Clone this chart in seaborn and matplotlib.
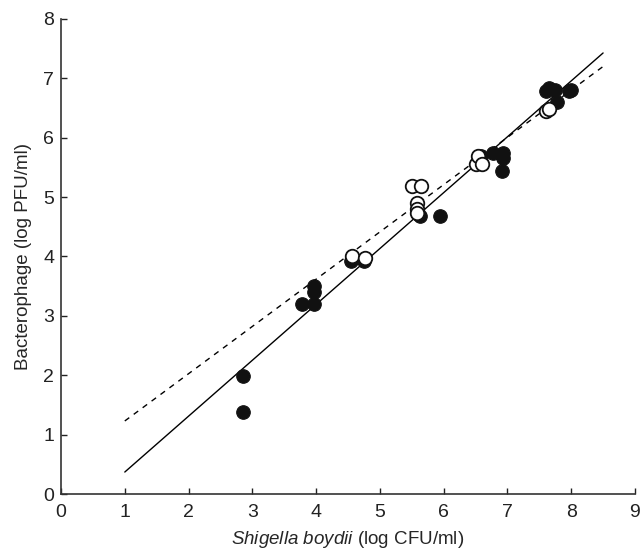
import numpy as np
import pandas as pd
import matplotlib
matplotlib.use("Agg")
import matplotlib.pyplot as plt
import seaborn as sns

# filled circles
filled_x = [2.85, 2.85, 3.78, 3.97, 3.97, 3.97, 4.55, 4.75, 5.60, 5.63, 5.94,
            6.58, 6.77, 6.93, 6.93, 6.91, 7.60, 7.65, 7.74, 7.96, 8.00, 7.77]
filled_y = [1.99, 1.38, 3.20, 3.20, 3.40, 3.50, 3.92, 3.93, 4.72, 4.68, 4.68,
            5.70, 5.74, 5.74, 5.66, 5.44, 6.78, 6.83, 6.80, 6.78, 6.80, 6.60]

# open circles
open_x = [4.57, 4.77, 5.50, 5.64, 5.58, 5.58, 5.58, 6.50, 6.54, 6.60, 7.60, 7.65]
open_y = [4.01, 3.97, 5.19, 5.19, 4.90, 4.80, 4.73, 5.56, 5.69, 5.56, 6.45, 6.48]

# regression lines: value at x=1, slope
solid_fit = [0.37, 0.941]
dashed_fit = [1.23, 0.796]
line_range = [1.0, 8.5]

df_f = pd.DataFrame({"x": filled_x, "y": filled_y})
df_o = pd.DataFrame({"x": open_x, "y": open_y})

sns.set_style("ticks")
plt.rcParams["font.family"] = ["Liberation Sans", "DejaVu Sans"]
plt.rcParams["mathtext.fontset"] = "custom"
plt.rcParams["mathtext.rm"] = "Liberation Sans"
plt.rcParams["mathtext.it"] = "Liberation Sans:italic"

fig = plt.figure(figsize=(6.41, 5.55), dpi=100)
ax = fig.add_axes([0.0952, 0.1099, 0.8954, 0.8559])

lx = np.array(line_range)
ax.plot(lx, solid_fit[0] + solid_fit[1] * (lx - 1), color="black", lw=1.0, zorder=1)
ax.plot(lx, dashed_fit[0] + dashed_fit[1] * (lx - 1), color="black", lw=1.0,
        linestyle=(0, (4, 4)), zorder=1)

sns.scatterplot(data=df_f, x="x", y="y", ax=ax, s=95, color="#111111",
                edgecolor="#111111", linewidth=0.8, zorder=2)
sns.scatterplot(data=df_o, x="x", y="y", ax=ax, s=95, facecolor="white",
                edgecolor="#111111", linewidth=1.3, zorder=3)

ax.set_xlim(0, 9)
ax.set_ylim(0, 8)
ax.set_xticks(range(0, 10))
ax.set_yticks(range(0, 9))
ax.tick_params(direction="in", length=4, width=1, labelsize=14, colors="#222222")
ax.tick_params(axis="x", pad=7)
ax.tick_params(axis="y", pad=5)
for side in ["top", "right"]:
    ax.spines[side].set_visible(False)
for side in ["left", "bottom"]:
    ax.spines[side].set_linewidth(1.2)
    ax.spines[side].set_color("#333333")

ax.set_xlabel(r"$\it{Shigella\ boydii}$ (log CFU/ml)", fontsize=13.5, labelpad=6)
ax.set_ylabel("Bacterophage (log PFU/ml)", fontsize=13.5, labelpad=8)

fig.savefig("out.png", dpi=100)
